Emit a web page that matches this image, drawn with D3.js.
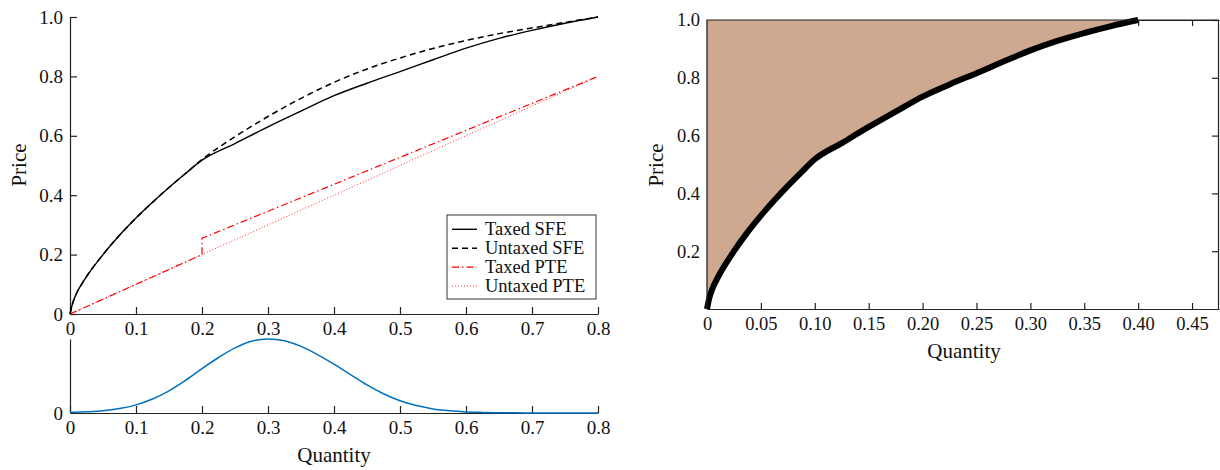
<!DOCTYPE html>
<html>
<head>
<meta charset="utf-8">
<script src="https://cdn.jsdelivr.net/npm/d3@7"></script>
<style>
    body { margin: 0; background: #fff; }
    text { font-family: "Liberation Serif", "Times New Roman", serif; fill: #111; }
    .axis path, .axis line { stroke: #222; stroke-width: 1.2; }
</style>
</head>
<body>
<div id="container"></div>
<script>
// quantity grid shared by the SFE curves (left panel)
const sfeQ = [0, 0.004, 0.01, 0.0175, 0.025, 0.05, 0.075, 0.1, 0.125, 0.15, 0.175, 0.2, 0.25, 0.3, 0.35, 0.4, 0.45, 0.5, 0.55, 0.6, 0.65, 0.7, 0.75, 0.8]
const taxedSFE = [0, 0.036, 0.07, 0.1, 0.126, 0.2, 0.265, 0.323, 0.376, 0.426, 0.473, 0.518, 0.574, 0.63, 0.683, 0.735, 0.777, 0.816, 0.856, 0.895, 0.928, 0.955, 0.979, 1.0]
const untaxedSFE = [0, 0.036, 0.07, 0.1, 0.126, 0.2, 0.265, 0.323, 0.376, 0.426, 0.473, 0.52, 0.597, 0.665, 0.726, 0.78, 0.825, 0.862, 0.894, 0.921, 0.944, 0.963, 0.982, 1.0]

const taxedPTEQ = [0, 0.2, 0.2, 0.8]
const taxedPTE = [0, 0.2, 0.255, 0.8]
const untaxedPTEQ = [0, 0.8]
const untaxedPTE = [0, 0.8]

// density of demand shocks (bottom panel), scaled to its peak
const densityQ = [0, 0.025, 0.05, 0.075, 0.1, 0.125, 0.15, 0.175, 0.2, 0.225, 0.25, 0.275, 0.3, 0.325, 0.35, 0.375, 0.4,
    0.425, 0.45, 0.475, 0.5, 0.525, 0.55, 0.575, 0.6, 0.625, 0.65, 0.675, 0.7, 0.725, 0.75, 0.775, 0.8]
const density = [0.01, 0.017, 0.03, 0.06, 0.11, 0.19, 0.3, 0.44, 0.6, 0.75, 0.88, 0.97, 1.0, 0.975, 0.9, 0.79, 0.66,
    0.52, 0.38, 0.26, 0.165, 0.1, 0.055, 0.03, 0.015, 0.008, 0.004, 0.002, 0.001, 0, 0, 0, 0]

// right panel: supply function with the shaded area above it
const rightQ = [0, 0.002, 0.005, 0.00875, 0.0125, 0.025, 0.0375, 0.05, 0.0625, 0.075, 0.0875, 0.1, 0.125, 0.15, 0.175, 0.2, 0.225, 0.25, 0.275, 0.3, 0.325, 0.35, 0.375, 0.4]
const rightP = [0, 0.036, 0.07, 0.1, 0.126, 0.2, 0.265, 0.323, 0.376, 0.426, 0.473, 0.518, 0.574, 0.63, 0.683, 0.735, 0.777, 0.816, 0.856, 0.895, 0.928, 0.955, 0.979, 1.0]

const leftXTicks = [0, 0.1, 0.2, 0.3, 0.4, 0.5, 0.6, 0.7, 0.8]
const leftYTicks = [0, 0.2, 0.4, 0.6, 0.8, 1.0]
const rightXTicks = [0, 0.05, 0.1, 0.15, 0.2, 0.25, 0.3, 0.35, 0.4, 0.45]
const rightYTicks = [0.2, 0.4, 0.6, 0.8, 1.0]

const legendNames = ["Taxed SFE", "Untaxed SFE", "Taxed PTE", "Untaxed PTE"]

const styles = [
    { color: "#000", dash: null, width: 1.4 },
    { color: "#000", dash: "6,4", width: 1.5 },
    { color: "#ff0000", dash: "7,3,1.5,3", width: 1.2 },
    { color: "#ff3030", dash: "1,2", width: 1 }
]

const TICK_FS = 19
const LABEL_FS = 21

const svg = d3.select("#container").append("svg")
    .attr("width", 1220).attr("height", 470)

const fmtZero = d => d === 0 ? "0" : d3.format(".1f")(d)
const fmtRight = d => d === 0 ? "0" : d3.format(".2f")(d)

// ---------- left top panel ----------
const x = d3.scaleLinear().domain([0, 0.8]).range([70, 598])
const y = d3.scaleLinear().domain([0, 1]).range([314, 17])

svg.append("g").attr("class", "axis")
    .attr("transform", "translate(0,314)")
    .call(d3.axisBottom(x).tickValues(leftXTicks).tickFormat(fmtZero).tickSizeInner(-7).tickSizeOuter(0).tickPadding(8))
    .call(g => g.selectAll("text").attr("font-size", TICK_FS))

svg.append("g").attr("class", "axis")
    .attr("transform", "translate(70,0)")
    .call(d3.axisLeft(y).tickValues(leftYTicks).tickFormat(fmtZero).tickSizeInner(-7).tickSizeOuter(0).tickPadding(7))
    .call(g => g.selectAll("text").attr("font-size", TICK_FS))

svg.append("text")
    .attr("transform", "translate(26,165) rotate(-90)")
    .attr("text-anchor", "middle").attr("font-size", LABEL_FS)
    .text("Price")

const line = d3.line().x(d => x(d[0])).y(d => y(d[1]))
const smooth = d3.line().x(d => x(d[0])).y(d => y(d[1])).curve(d3.curveMonotoneX)

const series = [
    d3.zip(sfeQ, taxedSFE),
    d3.zip(sfeQ, untaxedSFE),
    d3.zip(taxedPTEQ, taxedPTE),
    d3.zip(untaxedPTEQ, untaxedPTE)
]

// draw back to front so the taxed curves sit on top
for (let i = series.length - 1; i >= 0; i--) {
    svg.append("path")
        .attr("d", i < 2 ? smooth(series[i]) : line(series[i]))
        .attr("fill", "none")
        .attr("stroke", styles[i].color)
        .attr("stroke-width", styles[i].width)
        .attr("stroke-dasharray", styles[i].dash)
}

// legend
const lg = svg.append("g").attr("transform", "translate(447,215)")
lg.append("rect").attr("width", 149).attr("height", 84)
    .attr("fill", "#fff").attr("stroke", "#333").attr("stroke-width", 1)
legendNames.forEach((n, i) => {
    const yy = 14.3 + i * 18.9
    lg.append("line").attr("x1", 5).attr("x2", 30).attr("y1", yy).attr("y2", yy)
        .attr("stroke", styles[i].color).attr("stroke-width", styles[i].width)
        .attr("stroke-dasharray", styles[i].dash)
    lg.append("text").attr("x", 38).attr("y", yy + 6)
        .attr("font-size", 18.5).text(n)
})

// ---------- left bottom panel ----------
const yb = d3.scaleLinear().domain([0, 1]).range([413, 339])

svg.append("g").attr("class", "axis")
    .attr("transform", "translate(0,413)")
    .call(d3.axisBottom(x).tickValues(leftXTicks).tickFormat(fmtZero).tickSizeInner(-7).tickSizeOuter(0).tickPadding(8))
    .call(g => g.selectAll("text").attr("font-size", TICK_FS))

svg.append("g").attr("class", "axis")
    .attr("transform", "translate(70,0)")
    .call(d3.axisLeft(yb).tickValues([0]).tickFormat(fmtZero).tickSizeInner(0).tickSizeOuter(0).tickPadding(7))
    .call(g => g.selectAll("text").attr("font-size", TICK_FS))

svg.append("path")
    .datum(d3.zip(densityQ, density))
    .attr("d", d3.line().x(d => x(d[0])).y(d => yb(d[1])).curve(d3.curveMonotoneX))
    .attr("fill", "none").attr("stroke", "#0072bd").attr("stroke-width", 1.5)

svg.append("text")
    .attr("x", 334).attr("y", 462)
    .attr("text-anchor", "middle").attr("font-size", LABEL_FS)
    .text("Quantity")

// ---------- right panel ----------
const xr = d3.scaleLinear().domain([0, 0.475]).range([707, 1219])
const yr = d3.scaleLinear().domain([0, 1]).range([309, 20])

svg.append("g").attr("class", "axis")
    .attr("transform", "translate(0,309)")
    .call(d3.axisBottom(xr).tickValues(rightXTicks).tickFormat(fmtRight).tickSizeInner(-6).tickSizeOuter(0).tickPadding(8))
    .call(g => g.selectAll("text").attr("font-size", 18.5))

svg.append("g").attr("class", "axis")
    .attr("transform", "translate(0,20)")
    .call(d3.axisTop(xr).tickValues(rightXTicks).tickFormat("").tickSizeInner(-6).tickSizeOuter(0))

svg.append("g").attr("class", "axis")
    .attr("transform", "translate(707,0)")
    .call(d3.axisLeft(yr).tickValues(rightYTicks).tickFormat(d3.format(".1f")).tickSizeInner(0).tickSizeOuter(0).tickPadding(7))
    .call(g => g.selectAll("text").attr("font-size", 18.5))

svg.append("g").attr("class", "axis")
    .attr("transform", "translate(1218,0)")
    .call(d3.axisRight(yr).tickValues(rightYTicks).tickFormat("").tickSizeInner(-6).tickSizeOuter(0))

const rpts = d3.zip(rightQ, rightP)

svg.append("path")
    .datum(rpts)
    .attr("d", d3.area().x(d => xr(d[0])).y0(yr(1)).y1(d => yr(d[1])).curve(d3.curveMonotoneX))
    .attr("fill", "#cfa890")

svg.append("path")
    .datum(rpts)
    .attr("d", d3.line().x(d => xr(d[0])).y(d => yr(d[1])).curve(d3.curveMonotoneX))
    .attr("fill", "none").attr("stroke", "#000").attr("stroke-width", 6)

// box edges back on top of the fill
svg.append("path")
    .attr("d", `M${xr(0)},${yr(0)}V${yr(1)}H${xr(0.475)}`)
    .attr("fill", "none").attr("stroke", "#222").attr("stroke-width", 1.2)

svg.append("text")
    .attr("transform", "translate(663,165) rotate(-90)")
    .attr("text-anchor", "middle").attr("font-size", LABEL_FS)
    .text("Price")

svg.append("text")
    .attr("x", 964).attr("y", 358)
    .attr("text-anchor", "middle").attr("font-size", LABEL_FS)
    .text("Quantity")
</script>
</body>
</html>
